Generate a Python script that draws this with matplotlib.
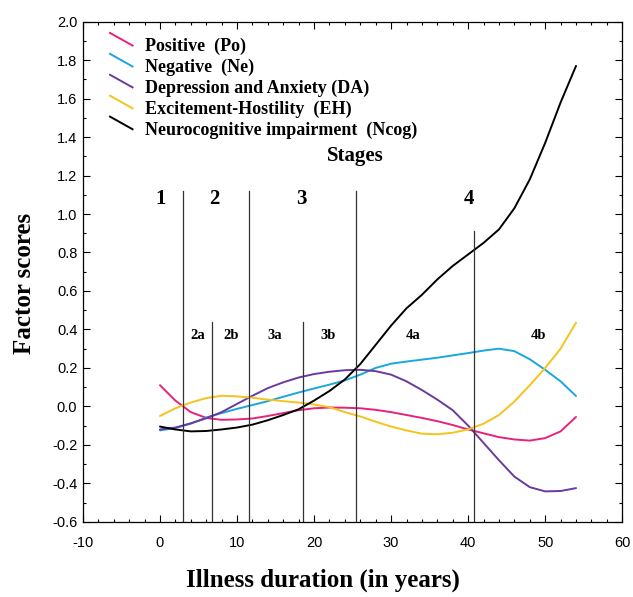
import matplotlib
matplotlib.use("Agg")
import matplotlib.pyplot as plt
from matplotlib.lines import Line2D
from matplotlib.legend_handler import HandlerBase
from matplotlib.ticker import MultipleLocator, FormatStrFormatter

plt.rcParams["axes.unicode_minus"] = False

# ---- data ----
years = [0, 2, 4, 6, 8, 10, 12, 14, 16, 18, 20, 22, 24, 26, 28, 30, 32, 34, 36,
         38, 40, 42, 44, 46, 48, 50, 52, 54]
positive = [0.11, 0.03, -0.03, -0.06, -0.07, -0.068, -0.063, -0.05, -0.035, -0.02,
            -0.01, -0.006, -0.007, -0.01, -0.018, -0.03, -0.045, -0.06, -0.077,
            -0.097, -0.12, -0.14, -0.16, -0.172, -0.178, -0.165, -0.13, -0.055]
negative = [-0.125, -0.113, -0.09, -0.058, -0.035, -0.013, 0.007, 0.027, 0.05, 0.072,
            0.093, 0.113, 0.135, 0.165, 0.2, 0.222, 0.233, 0.243, 0.253, 0.265,
            0.277, 0.29, 0.30, 0.287, 0.245, 0.19, 0.13, 0.054]
depression = [-0.12, -0.11, -0.088, -0.062, -0.03, 0.013, 0.055, 0.095, 0.125, 0.15,
              0.168, 0.18, 0.188, 0.19, 0.183, 0.165, 0.13, 0.085, 0.035, -0.02,
              -0.1, -0.19, -0.28, -0.365, -0.42, -0.442, -0.44, -0.425]
excitement = [-0.05, -0.01, 0.02, 0.043, 0.055, 0.052, 0.045, 0.035, 0.027, 0.02,
              0.01, -0.004, -0.03, -0.052, -0.08, -0.105, -0.125, -0.142, -0.145,
              -0.137, -0.12, -0.09, -0.045, 0.025, 0.11, 0.2, 0.3, 0.435]
ncog = [-0.105, -0.12, -0.13, -0.128, -0.12, -0.11, -0.095, -0.072, -0.045, -0.015,
        0.03, 0.08, 0.14, 0.22, 0.32, 0.42, 0.51, 0.58, 0.66, 0.73, 0.79, 0.85,
        0.92, 1.03, 1.18, 1.37, 1.58, 1.77]

series_labels = ["Positive  (Po)", "Negative  (Ne)", "Depression and Anxiety (DA)",
                 "Excitement-Hostility  (EH)", "Neurocognitive impairment  (Ncog)"]
series_colors = ["#E8227C", "#1AA7DC", "#6A3A9E", "#F6C31C", "#000000"]

# stage boundaries (x) and their top (y)
main_bounds = [3.0, 11.6, 25.5]
main_top = 1.12
sub_bounds = [6.8, 18.6]
sub_top = 0.44
late_bound = [40.8]
late_top = 0.91

stage_names = ["1", "2", "3", "4"]
stage_x = [0.05, 7.07, 18.4, 40.1]
stage_y = 1.078
sub_names = ["2a", "2b", "3a", "3b", "4a", "4b"]
sub_x = [4.96, 9.3, 14.9, 21.8, 32.9, 49.1]
sub_y = 0.367

serif = ["Liberation Serif", "DejaVu Serif"]
sans = ["Liberation Sans", "DejaVu Sans"]

fig = plt.figure(figsize=(6.33, 5.97), dpi=100)
ax = fig.add_axes([0.131, 0.126, 0.852, 0.8377])

data = [positive, negative, depression, excitement, ncog]
handles = []
for vals, col, lab in zip(data, series_colors, series_labels):
    h, = ax.plot(years, vals, color=col, lw=1.4, label=lab,
                 solid_capstyle="round", solid_joinstyle="round")
    handles.append(h)

for b in main_bounds:
    ax.plot([b, b], [-0.6, main_top], color="#333333", lw=0.9)
for b in sub_bounds:
    ax.plot([b, b], [-0.6, sub_top], color="#333333", lw=0.9)
for b in late_bound:
    ax.plot([b, b], [-0.6, late_top], color="#333333", lw=0.9)

for n, x in zip(stage_names, stage_x):
    ax.text(x, stage_y, n, ha="center", va="center", fontsize=15,
            fontweight="bold", family=serif)
for n, x in zip(sub_names, sub_x):
    ax.text(x, sub_y, n, ha="center", va="center", fontsize=10.5,
            fontweight="bold", family=serif)
ax.text(25.4, 1.3, "Stages", ha="center", va="center", fontsize=15,
        fontweight="bold", family=serif)

ax.set_xlim(-10, 60)
ax.set_ylim(-0.6, 2.0)
ax.xaxis.set_major_locator(MultipleLocator(10))
ax.xaxis.set_minor_locator(MultipleLocator(2))
ax.yaxis.set_major_locator(MultipleLocator(0.2))
ax.yaxis.set_minor_locator(MultipleLocator(0.1))
ax.tick_params(which="both", direction="in", top=True, right=True, width=0.8)
ax.tick_params(which="major", length=5, labelsize=10.5)
ax.tick_params(which="minor", length=2.5)
ax.tick_params(axis="x", which="major", pad=10)
ax.tick_params(axis="y", which="major", pad=4)
ax.yaxis.set_major_formatter(FormatStrFormatter("%.1f"))
for lab in ax.get_xticklabels() + ax.get_yticklabels():
    lab.set_family(sans)
for s in ax.spines.values():
    s.set_linewidth(0.9)


class DiagHandler(HandlerBase):
    def create_artists(self, legend, orig_handle, xdescent, ydescent, width,
                       height, fontsize, trans):
        l = Line2D([-xdescent, -xdescent + width],
                   [-ydescent + height * 1.45, -ydescent + height * 0.45],
                   color=orig_handle.get_color(), lw=1.4)
        l.set_transform(trans)
        return [l]


leg = fig.legend(handles=handles, labels=series_labels,
                 handler_map={Line2D: DiagHandler()},
                 loc="upper left", bbox_to_anchor=(110 / 633, 1 - 38 / 597),
                 frameon=False, borderpad=0, borderaxespad=0,
                 handlelength=1.25, handletextpad=0.7, labelspacing=0.2,
                 prop={"family": serif, "weight": "bold", "size": 13})

fig.text(323 / 633, 1 - 580 / 597, "Illness duration (in years)", ha="center",
         va="center", fontsize=18, fontweight="bold", family=serif)
fig.text(25 / 633, 1 - 283 / 597, "Factor scores", ha="center", va="center",
         rotation=90, fontsize=18, fontweight="bold", family=serif)

fig.savefig("out.png", dpi=100)
